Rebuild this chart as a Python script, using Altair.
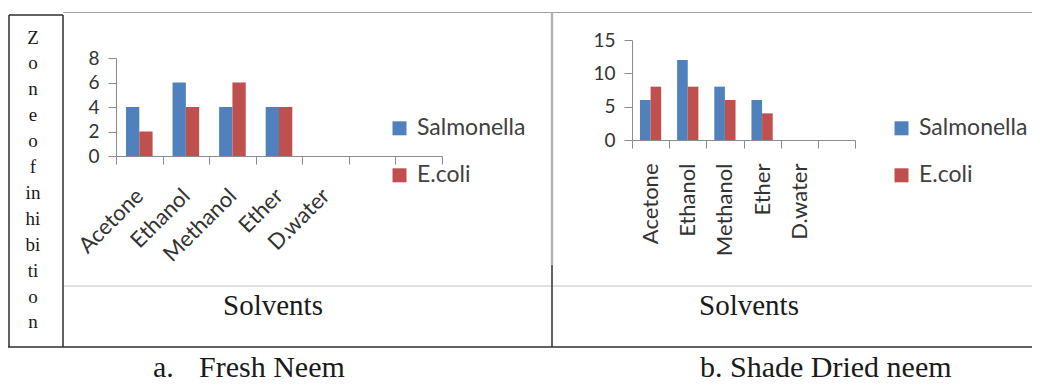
import altair as alt
import pandas as pd

# ---------------- data ----------------
solvents = ["Acetone", "Ethanol", "Methanol", "Ether", "D.water"]
organisms = ["Salmonella", "E.coli"]
fresh_salmonella = [4, 6, 4, 4, 0]
fresh_ecoli = [2, 4, 6, 4, 0]
dried_salmonella = [6, 12, 8, 6, 0]
dried_ecoli = [8, 8, 6, 4, 0]
fresh_domain = solvents + [" ", "  "]
dried_domain = solvents + [" "]
fresh_ticks = [0, 2, 4, 6, 8]
dried_ticks = [0, 5, 10, 15]
ytitle_lines = ["Z", "o", "n", "e", "o", "f", "in", "hi", "bi", "ti", "o", "n"]
colors = ["#4F81BD", "#C0504D"]

SANS = "Lato"
SERIF = "Liberation Serif"
W, H = 1024, 376
LABEL = "#333333"
AXIS = "#8c8c8c"


def frame(sal, eco):
    rows = []
    for i, sv in enumerate(solvents):
        rows.append({"Solvent": sv, "Organism": organisms[0], "Value": sal[i]})
        rows.append({"Solvent": sv, "Organism": organisms[1], "Value": eco[i]})
    return pd.DataFrame(rows)


def bars(df, domain, xrange, yticks, yrange, angle, pad, leg_x, leg_y):
    return alt.Chart(df).mark_bar().encode(
        x=alt.X(
            "Solvent:N",
            sort=domain,
            scale=alt.Scale(domain=domain, range=xrange, paddingInner=0, paddingOuter=0),
            axis=alt.Axis(
                orient="bottom", offset=yrange[0] - H, title=None, tickBand="extent",
                labelAngle=angle, labelAlign="right", labelBaseline="middle",
                labelPadding=pad, tickSize=8, domainColor=AXIS, tickColor=AXIS,
                labelFont=SANS, labelFontSize=22, labelColor=LABEL,
                labelOverlap=False, grid=False,
            ),
        ),
        xOffset=alt.XOffset(
            "Organism:N", sort=organisms,
            scale=alt.Scale(domain=organisms, paddingInner=0, paddingOuter=0.75),
        ),
        y=alt.Y(
            "Value:Q",
            scale=alt.Scale(domain=[yticks[0], yticks[-1]], range=yrange, nice=False),
            axis=alt.Axis(
                orient="left", offset=-xrange[0], values=yticks, title=None,
                tickSize=8, domainColor=AXIS, tickColor=AXIS, labelPadding=9,
                labelFont=SANS, labelFontSize=19, labelColor=LABEL, grid=False,
            ),
        ),
        color=alt.Color(
            "Organism:N", sort=organisms,
            scale=alt.Scale(domain=organisms, range=colors),
            legend=alt.Legend(
                orient="none", legendX=leg_x, legendY=leg_y, title=None, padding=0,
                symbolType="square", symbolSize=196, symbolStrokeWidth=0,
                labelFont=SANS, labelFontSize=23, labelColor="#404040",
                labelOffset=6, rowPadding=23,
            ),
        ),
    )


one = alt.Data(values=[{}])


def rule(x1, x2, y1, y2, color, width):
    return alt.Chart(one).mark_rule(color=color, strokeWidth=width).encode(
        x=alt.value(x1), x2=alt.value(x2), y=alt.value(y1), y2=alt.value(y2)
    )


def text(t, x, y, size, align="center", **kw):
    return alt.Chart(one).mark_text(
        text=t, font=SERIF, fontSize=size, align=align, baseline="alphabetic",
        color="#1a1a1a", **kw
    ).encode(x=alt.value(x), y=alt.value(y))


DARK = "#2e2e2e"
GRAY = "#a0a0a0"
LIGHT = "#c4c4c4"

decor = [
    rule(55, W, 4.5, 4.5, GRAY, 1.2),           # chart tops
    rule(55, W, 278, 278, LIGHT, 1.2),          # chart bottoms
    rule(544, 544, 4.5, 257, "#b4b4b4", 2.5),   # panel divider (chart edge)
    rule(544, 544, 257, 339, DARK, 1.5),
    rule(0, W, 339, 339, DARK, 1.5),            # table bottom
    rule(1, 1, 7, 339, DARK, 1.5),              # left cell
    rule(55, 55, 7, 339, DARK, 1.5),
    rule(1, 55, 7, 7, DARK, 1.5),
]

texts = [
    text(ytitle_lines, 25, 35.6, 19, lineHeight=25.9),
    text("Solvents", 265, 307, 29),
    text("Solvents", 741, 307, 29),
    text("a.", 145, 369, 30, align="left"),
    text("Fresh Neem", 191, 369, 30, align="left"),
    text("b. Shade Dried neem", 692, 369, 30, align="left"),
]

bars_a = bars(frame(fresh_salmonella, fresh_ecoli), fresh_domain, [108, 434],
              fresh_ticks, [148, 50], -45, 28, 380, 108.8)
bars_b = bars(frame(dried_salmonella, dried_ecoli), dried_domain, [624, 847],
              dried_ticks, [132, 32], -90, 15, 882, 108.8)

chart = (
    alt.layer(*decor, *texts, bars_a, bars_b)
    .resolve_scale(x="independent", y="independent", color="independent",
                   xOffset="independent")
    .properties(width=W, height=H, padding=0,
                autosize=alt.AutoSizeParams(type="none"), background="white")
    .configure_view(stroke=None)
)

chart.save("out.html", embed_options={"renderer": "svg", "actions": False})
